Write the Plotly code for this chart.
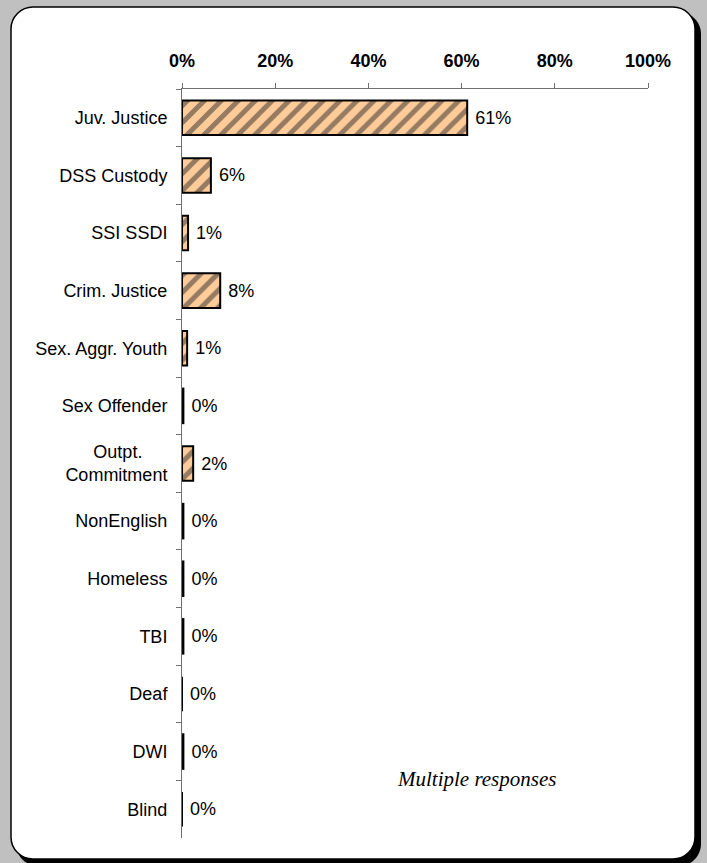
import plotly.graph_objects as go

categories = ["Juv. Justice", "DSS Custody", "SSI SSDI", "Crim. Justice",
              "Sex. Aggr. Youth", "Sex Offender",
              "Outpt.\u00a0\u00a0\u00a0\u00a0\u00a0<br>Commitment",
              "NonEnglish", "Homeless", "TBI", "Deaf", "DWI", "Blind"]
values = [61.2, 6.2, 1.3, 8.2, 1.1, 0.3, 2.4, 0.3, 0.3, 0.3, 0.0, 0.3, 0.0]
tick_vals = [0, 20, 40, 60, 80, 100]
tick_text = ["<b>%d%%</b>" % v for v in tick_vals]
note = "Multiple responses"

W, H = 707, 863
L, R, T, B = 182, 59, 89, 25
PW, PH = W - L - R, H - T - B


def px(x):
    return (x - L) / PW


def py(y):
    return (H - B - y) / PH


def rrect(x0, y0, x1, y1, r):
    k = 0.5523 * r
    pts = []
    pts.append("M%f,%f" % (px(x0 + r), py(y0)))
    pts.append("L%f,%f" % (px(x1 - r), py(y0)))
    pts.append("C%f,%f %f,%f %f,%f" % (px(x1 - r + k), py(y0), px(x1), py(y0 + r - k), px(x1), py(y0 + r)))
    pts.append("L%f,%f" % (px(x1), py(y1 - r)))
    pts.append("C%f,%f %f,%f %f,%f" % (px(x1), py(y1 - r + k), px(x1 - r + k), py(y1), px(x1 - r), py(y1)))
    pts.append("L%f,%f" % (px(x0 + r), py(y1)))
    pts.append("C%f,%f %f,%f %f,%f" % (px(x0 + r - k), py(y1), px(x0), py(y1 - r + k), px(x0), py(y1 - r)))
    pts.append("L%f,%f" % (px(x0), py(y0 + r)))
    pts.append("C%f,%f %f,%f %f,%f" % (px(x0), py(y0 + r - k), px(x0 + r - k), py(y0), px(x0 + r), py(y0)))
    pts.append("Z")
    return " ".join(pts)


fig = go.Figure()
fig.add_trace(go.Bar(
    x=values, y=categories, orientation="h",
    marker=dict(color="#FFCC99",
                line=dict(color="black", width=2),
                pattern=dict(shape="/", bgcolor="#FFCC99", fgcolor="#2A2A2A",
                             size=12, solidity=0.42)),
    texttemplate="\u00a0%{x:.0f}%",
    textposition="outside",
    cliponaxis=False,
    textfont=dict(family="Arial", size=18, color="black"),
    hoverinfo="skip",
))

shapes = [
    dict(type="path", xref="paper", yref="paper", path=rrect(16, 12, 701, 866, 22),
         fillcolor="black", line=dict(width=0), layer="below"),
    dict(type="path", xref="paper", yref="paper", path=rrect(11, 7, 695, 859, 22),
         fillcolor="white", line=dict(color="black", width=1.5), layer="below"),
]

fig.update_layout(
    width=W, height=H,
    margin=dict(l=L, r=R, t=T, b=B),
    paper_bgcolor="#C0C0C0",
    plot_bgcolor="rgba(0,0,0,0)",
    showlegend=False,
    bargap=0.4,
    shapes=shapes,
    font=dict(family="Arial", size=18, color="black"),
    annotations=[dict(text="<i>" + note + "</i>", xref="paper", yref="paper",
                      x=px(476), y=py(793), showarrow=False,
                      font=dict(family="Liberation Serif", size=21, color="black"))],
)
fig.update_xaxes(
    range=[0, 100], side="top", showline=True, linecolor="#707070", linewidth=1,
    ticks="outside", ticklen=5, tickcolor="#707070", ticklabelstandoff=9,
    tickvals=tick_vals, ticktext=tick_text, showgrid=False, zeroline=False,
    tickfont=dict(family="Arial", size=18, color="black"), fixedrange=True,
)
fig.update_yaxes(
    type="category", range=[12.5, -0.5], showline=True, linecolor="#707070", linewidth=1,
    ticks="outside", ticklen=5, tickcolor="#707070", tickson="boundaries",
    showgrid=False, zeroline=False, ticklabelstandoff=10,
    tickfont=dict(family="Arial", size=18, color="black"), fixedrange=True,
)

fig.write_html("out.html", config={"displayModeBar": False},
               post_script="document.body.style.margin='0';")
